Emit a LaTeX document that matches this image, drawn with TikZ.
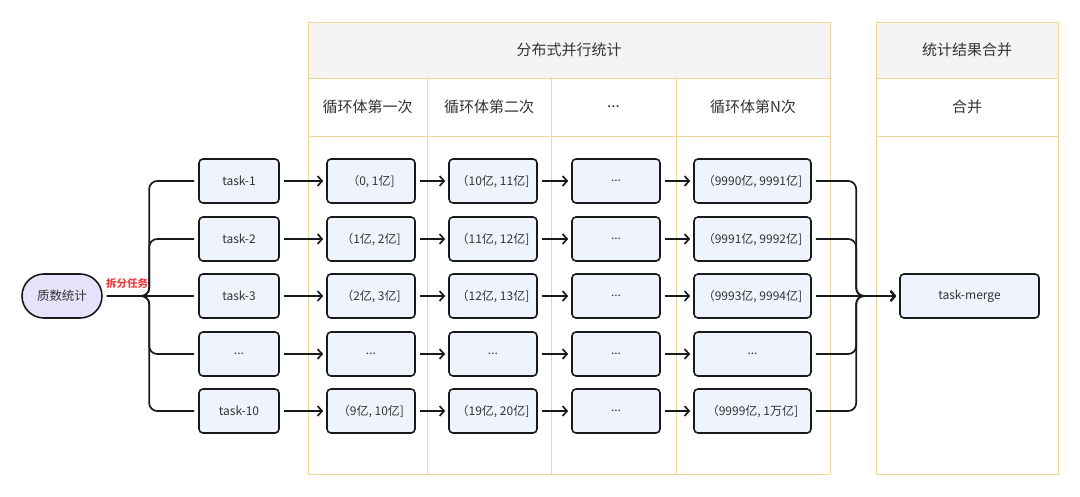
\documentclass[tikz,border=0pt]{standalone}
\usepackage{fontspec}
\setmainfont{Noto Sans CJK SC}
\usetikzlibrary{arrows.meta}
\definecolor{gold}{HTML}{EDD59B}
\definecolor{hdr}{HTML}{F4F4F4}
\definecolor{boxfill}{HTML}{EEF3FC}
\definecolor{srcfill}{HTML}{E7E1FA}
\definecolor{txt}{HTML}{333333}
\definecolor{lbl}{HTML}{F03E3E}
\definecolor{edge}{HTML}{1A1A1A}
\newcommand{\mydots}{...}
\tikzset{
  cell/.style={draw=gold, line width=0.8pt},
  headtext/.style={text=txt, font=\fontsize{15}{18}\selectfont, inner sep=0},
  box/.style={draw=edge, line width=1.6pt, fill=boxfill, rounded corners=4pt,
    minimum height=44pt, text=txt, font=\fontsize{12}{14}\selectfont, inner sep=0},
  conn/.style={line width=1.7pt, draw=edge, -{Straight Barb[length=4.5pt,width=10pt]},
    shorten <=4pt, shorten >=3pt},
  split/.style={line width=1.7pt, draw=edge, rounded corners=8pt,
    shorten <=4pt, shorten >=4pt},
  mergeline/.style={line width=1.7pt, draw=edge, rounded corners=8pt,
    -{Straight Barb[length=4.5pt,width=10pt]}, shorten <=4pt, shorten >=3pt},
}
\begin{document}
\begin{tikzpicture}[x=1pt,y=-1pt]
\useasboundingbox (0,0) rectangle (1080,496);
% tables
\fill[hdr] (308,22) rectangle (830,78);
\draw[cell] (308,22) rectangle (830,474);
\draw[cell] (308,78) -- (830,78);
\draw[cell] (308,136) -- (830,136);
\foreach \x in {427,551,676} \draw[cell] (\x,78) -- (\x,474);
\fill[hdr] (876,22) rectangle (1058,78);
\draw[cell] (876,22) rectangle (1058,474);
\draw[cell] (876,78) -- (1058,78);
\draw[cell] (876,136) -- (1058,136);
\node[headtext] (h1) at (569,50) {分布式并行统计};
\node[headtext] (h2) at (967,50) {统计结果合并};
\node[headtext] (c1) at (367.5,107) {循环体第一次};
\node[headtext] (c2) at (489,107) {循环体第二次};
\node[headtext] (c3) at (613.5,107) {\mydots};
\node[headtext] (c4) at (753,107) {循环体第N次};
\node[headtext] (c5) at (967,107) {合并};
% source
\node[draw=edge, line width=1.6pt, fill=srcfill, rounded corners=21.9pt,
  minimum width=80pt, minimum height=44pt, text=txt,
  font=\fontsize{12.5}{14}\selectfont, inner sep=0] (src) at (62,296) {质数统计};
\node[text=lbl, font=\fontsize{10.5}{12}\selectfont\bfseries, inner sep=0] (lab) at (127,284) {拆分任务};
% rows
\foreach \i/\y/\t/\a/\b/\c/\d in {
  1/181/task-1/{（0, 1亿]}/{（10亿, 11亿]}/\mydots/{（9990亿, 9991亿]},
  2/239/task-2/{（1亿, 2亿]}/{（11亿, 12亿]}/\mydots/{（9991亿, 9992亿]},
  3/296/task-3/{（2亿, 3亿]}/{（12亿, 13亿]}/\mydots/{（9993亿, 9994亿]},
  4/354/\mydots/\mydots/\mydots/\mydots/\mydots,
  5/411/task-10/{（9亿, 10亿]}/{（19亿, 20亿]}/\mydots/{（9999亿, 1万亿]}}{
  \node[box, minimum width=80pt] (t\i) at (239,\y) {\t};
  \node[box, minimum width=88pt] (a\i) at (371,\y) {\a};
  \node[box, minimum width=88pt] (b\i) at (493,\y) {\b};
  \node[box, minimum width=88pt] (k\i) at (616,\y) {\c};
  \node[box, minimum width=117pt] (d\i) at (752.5,\y) {\d};
}
\node[box, minimum width=139pt] (m) at (969.5,296) {task-merge};
% connectors
\foreach \i in {1,2,4,5}{
  \draw[split] (src.east) -| ([xshift=-49pt]t\i.west) -- (t\i.west);
  \draw[mergeline] (d\i.east) -| ([xshift=-43pt]m.west) -- (m.west);
}
\draw[split] (src.east) -- (t3.west);
\draw[mergeline] (d3.east) -- (m.west);
\foreach \i in {1,...,5}{
  \draw[conn] (t\i) -- (a\i);
  \draw[conn] (a\i) -- (b\i);
  \draw[conn] (b\i) -- (k\i);
  \draw[conn] (k\i) -- (d\i);
}
\end{tikzpicture}
\end{document}
